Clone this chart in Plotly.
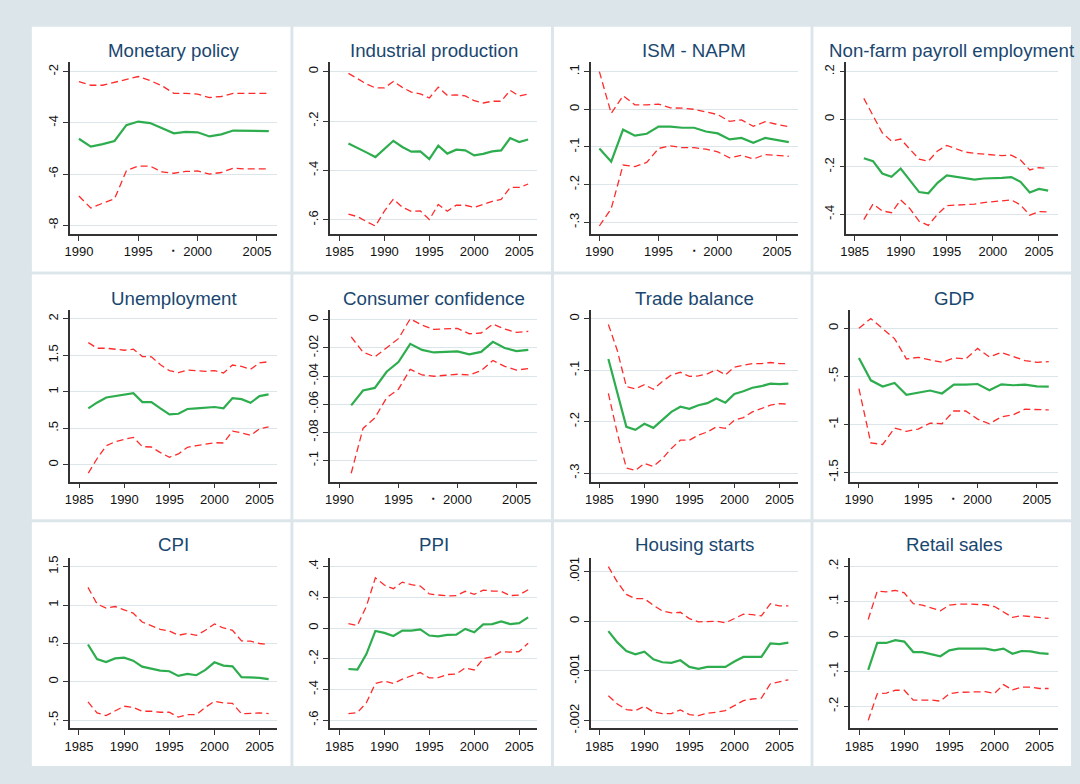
import plotly.graph_objects as go

# ---------------- data ----------------
YEARS_86 = [1986, 1987, 1988, 1989, 1990, 1991, 1992, 1993, 1994, 1995, 1996,
            1997, 1998, 1999, 2000, 2001, 2002, 2003, 2004, 2005, 2006]
YEARS_90 = [1990, 1991, 1992, 1993, 1994, 1995, 1996, 1997, 1998, 1999, 2000,
            2001, 2002, 2003, 2004, 2005, 2006]
YEARS_91 = [1991, 1992, 1993, 1994, 1995, 1996, 1997, 1998, 1999, 2000,
            2001, 2002, 2003, 2004, 2005, 2006]

TITLES = ["Monetary policy", "Industrial production", "ISM - NAPM",
          "Non-farm payroll employment", "Unemployment", "Consumer confidence",
          "Trade balance", "GDP", "CPI", "PPI", "Housing starts", "Retail sales"]

monetary_est = [-4.62, -4.93, -4.83, -4.71, -4.09, -3.95, -4.01, -4.22, -4.41, -4.35, -4.37,
                -4.53, -4.45, -4.30, -4.31, -4.32, -4.32]
monetary_hi = [-2.39, -2.53, -2.53, -2.41, -2.28, -2.19, -2.35, -2.55, -2.85, -2.85, -2.88,
               -3.01, -2.97, -2.85, -2.85, -2.85, -2.85]
monetary_lo = [-6.86, -7.33, -7.14, -6.97, -5.87, -5.69, -5.69, -5.92, -5.97, -5.90, -5.88,
               -6.00, -5.94, -5.77, -5.80, -5.80, -5.80]

indprod_est = [-0.291, -0.308, -0.327, -0.346, -0.312, -0.280, -0.305, -0.324, -0.323, -0.354,
               -0.300, -0.332, -0.316, -0.319, -0.339, -0.333, -0.323, -0.319, -0.269, -0.285, -0.275]
indprod_hi = [-0.007, -0.028, -0.050, -0.066, -0.066, -0.040, -0.064, -0.083, -0.090, -0.107,
              -0.063, -0.096, -0.094, -0.098, -0.118, -0.127, -0.120, -0.120, -0.076, -0.099, -0.091]
indprod_lo = [-0.577, -0.587, -0.607, -0.625, -0.565, -0.516, -0.549, -0.566, -0.564, -0.599,
              -0.538, -0.565, -0.541, -0.541, -0.550, -0.537, -0.525, -0.517, -0.469, -0.469, -0.455]

ism_est = [-0.104, -0.139, -0.054, -0.070, -0.065, -0.046, -0.046, -0.049, -0.049, -0.059,
           -0.064, -0.080, -0.076, -0.089, -0.076, -0.082, -0.087]
ism_hi = [0.100, -0.011, 0.036, 0.012, 0.012, 0.014, 0.004, 0.003, 0.000, -0.008,
          -0.014, -0.032, -0.028, -0.045, -0.033, -0.040, -0.046]
ism_lo = [-0.310, -0.264, -0.148, -0.152, -0.141, -0.104, -0.097, -0.102, -0.102, -0.106,
          -0.113, -0.129, -0.122, -0.132, -0.120, -0.122, -0.125]

nfp_est = [-0.164, -0.176, -0.228, -0.242, -0.207, -0.257, -0.306, -0.311, -0.267, -0.236,
           -0.242, -0.250, -0.254, -0.249, -0.249, -0.246, -0.243, -0.263, -0.308, -0.293, -0.300]
nfp_hi = [0.088, 0.013, -0.057, -0.092, -0.083, -0.126, -0.168, -0.176, -0.133, -0.110,
          -0.124, -0.138, -0.143, -0.147, -0.151, -0.153, -0.151, -0.171, -0.213, -0.203, -0.207]
nfp_lo = [-0.422, -0.356, -0.385, -0.393, -0.339, -0.376, -0.429, -0.446, -0.399, -0.363,
          -0.361, -0.360, -0.357, -0.350, -0.346, -0.342, -0.339, -0.360, -0.403, -0.388, -0.390]

unemp_est = [0.774, 0.855, 0.923, 0.941, 0.959, 0.982, 0.860, 0.860, 0.774, 0.692, 0.700,
             0.765, 0.774, 0.783, 0.792, 0.774, 0.914, 0.900, 0.850, 0.941, 0.964]
unemp_hi = [1.674, 1.597, 1.597, 1.584, 1.570, 1.584, 1.484, 1.480, 1.371, 1.290, 1.262,
            1.299, 1.290, 1.281, 1.290, 1.258, 1.367, 1.348, 1.308, 1.398, 1.412]
unemp_lo = [-0.113, 0.090, 0.262, 0.317, 0.348, 0.376, 0.249, 0.244, 0.167, 0.104, 0.149,
            0.240, 0.262, 0.280, 0.303, 0.299, 0.462, 0.439, 0.403, 0.493, 0.520]

conf_est = [-0.0608, -0.0502, -0.0484, -0.0369, -0.0300, -0.0171, -0.0214, -0.0232,
            -0.0228, -0.0225, -0.0246, -0.0228, -0.0157, -0.0200, -0.0223, -0.0214]
conf_hi = [-0.0122, -0.0230, -0.0263, -0.0200, -0.0134, 0.0007, -0.0038, -0.0068,
           -0.0063, -0.0061, -0.0099, -0.0094, -0.0031, -0.0066, -0.0089, -0.0082]
conf_lo = [-0.1090, -0.0772, -0.0697, -0.0554, -0.0493, -0.0352, -0.0392, -0.0401,
           -0.0394, -0.0387, -0.0392, -0.0362, -0.0289, -0.0331, -0.0357, -0.0347]

trade_est = [-0.078, -0.143, -0.210, -0.216, -0.204, -0.212, -0.197, -0.181, -0.171, -0.175,
             -0.168, -0.164, -0.155, -0.163, -0.146, -0.141, -0.134, -0.131, -0.126, -0.127, -0.126]
trade_hi = [-0.011, -0.062, -0.132, -0.136, -0.128, -0.137, -0.122, -0.109, -0.104, -0.112,
            -0.111, -0.107, -0.099, -0.109, -0.094, -0.091, -0.087, -0.087, -0.085, -0.087, -0.087]
trade_lo = [-0.145, -0.223, -0.290, -0.295, -0.281, -0.287, -0.272, -0.252, -0.236, -0.236,
            -0.226, -0.220, -0.210, -0.213, -0.197, -0.192, -0.181, -0.174, -0.168, -0.165, -0.166]

gdp_est = [-0.308, -0.541, -0.606, -0.568, -0.692, -0.668, -0.647, -0.678, -0.586, -0.586,
           -0.579, -0.644, -0.582, -0.592, -0.586, -0.603, -0.606]
gdp_hi = [0.000, 0.103, -0.003, -0.106, -0.318, -0.301, -0.329, -0.353, -0.308, -0.318,
          -0.209, -0.298, -0.250, -0.295, -0.336, -0.353, -0.346]
gdp_lo = [-0.627, -1.192, -1.209, -1.038, -1.072, -1.048, -0.986, -0.993, -0.860, -0.860,
          -0.945, -0.993, -0.921, -0.900, -0.842, -0.842, -0.849]

cpi_est = [0.486, 0.297, 0.258, 0.305, 0.314, 0.275, 0.198, 0.176, 0.146, 0.138, 0.077,
           0.103, 0.086, 0.155, 0.254, 0.211, 0.202, 0.060, 0.060, 0.052, 0.034]
cpi_hi = [1.230, 1.015, 0.959, 0.980, 0.937, 0.894, 0.778, 0.727, 0.684, 0.662, 0.606,
          0.628, 0.606, 0.671, 0.753, 0.701, 0.671, 0.533, 0.529, 0.499, 0.486]
cpi_lo = [-0.262, -0.404, -0.439, -0.383, -0.318, -0.331, -0.383, -0.383, -0.396, -0.396,
          -0.460, -0.426, -0.426, -0.331, -0.254, -0.275, -0.280, -0.417, -0.409, -0.404, -0.413]

ppi_est = [-0.267, -0.271, -0.170, -0.019, -0.032, -0.052, -0.017, -0.017, -0.009, -0.049,
           -0.054, -0.045, -0.043, -0.006, -0.028, 0.024, 0.026, 0.043, 0.026, 0.032, 0.069]
ppi_hi = [0.028, 0.017, 0.142, 0.327, 0.280, 0.256, 0.299, 0.282, 0.273, 0.222, 0.215,
          0.209, 0.211, 0.239, 0.219, 0.247, 0.241, 0.239, 0.211, 0.215, 0.249]
ppi_lo = [-0.557, -0.551, -0.486, -0.361, -0.346, -0.361, -0.333, -0.310, -0.290, -0.325,
          -0.323, -0.303, -0.299, -0.260, -0.273, -0.200, -0.187, -0.153, -0.157, -0.153, -0.099]

housing_est = [-0.000200, -0.000427, -0.000600, -0.000667, -0.000613, -0.000767, -0.000827,
               -0.000840, -0.000787, -0.000920, -0.000960, -0.000920, -0.000920, -0.000920,
               -0.000813, -0.000720, -0.000720, -0.000720, -0.000447, -0.000460, -0.000433]
housing_hi = [0.001100, 0.000787, 0.000540, 0.000453, 0.000453, 0.000320, 0.000207,
              0.000167, 0.000180, 0.000053, -0.000013, 0.000000, 0.000000, -0.000033,
              0.000053, 0.000140, 0.000133, 0.000107, 0.000353, 0.000307, 0.000307]
housing_lo = [-0.001500, -0.001667, -0.001780, -0.001800, -0.001713, -0.001827, -0.001860,
              -0.001860, -0.001787, -0.001880, -0.001900, -0.001853, -0.001833, -0.001800,
              -0.001700, -0.001600, -0.001567, -0.001547, -0.001260, -0.001213, -0.001180]

retail_est = [-0.096, -0.019, -0.019, -0.011, -0.015, -0.045, -0.045, -0.050, -0.057, -0.040,
              -0.035, -0.035, -0.035, -0.035, -0.040, -0.035, -0.050, -0.042, -0.043, -0.048, -0.050]
retail_hi = [0.048, 0.129, 0.127, 0.131, 0.124, 0.093, 0.089, 0.082, 0.073, 0.089, 0.092,
             0.092, 0.090, 0.090, 0.085, 0.070, 0.054, 0.059, 0.057, 0.055, 0.051]
retail_lo = [-0.240, -0.164, -0.162, -0.154, -0.154, -0.182, -0.182, -0.182, -0.185, -0.164,
             -0.160, -0.160, -0.160, -0.158, -0.163, -0.138, -0.153, -0.145, -0.145, -0.149, -0.149]

X_TICKS_85 = [1985, 1990, 1995, 2000, 2005]
X_TICKS_90 = [1990, 1995, 2000, 2005]

Y_TICKS = [
    [-8, -6, -4, -2],
    [-0.6, -0.4, -0.2, 0],
    [-0.3, -0.2, -0.1, 0, 0.1],
    [-0.4, -0.2, 0, 0.2],
    [0, 0.5, 1, 1.5, 2],
    [-0.1, -0.08, -0.06, -0.04, -0.02, 0],
    [-0.3, -0.2, -0.1, 0],
    [-1.5, -1, -0.5, 0],
    [-0.5, 0, 0.5, 1, 1.5],
    [-0.6, -0.4, -0.2, 0, 0.2, 0.4],
    [-0.002, -0.001, 0, 0.001],
    [-0.2, -0.1, 0, 0.1, 0.2],
]

SERIES = [
    (YEARS_90, monetary_est, monetary_hi, monetary_lo),
    (YEARS_86, indprod_est, indprod_hi, indprod_lo),
    (YEARS_90, ism_est, ism_hi, ism_lo),
    (YEARS_86, nfp_est, nfp_hi, nfp_lo),
    (YEARS_86, unemp_est, unemp_hi, unemp_lo),
    (YEARS_91, conf_est, conf_hi, conf_lo),
    (YEARS_86, trade_est, trade_hi, trade_lo),
    (YEARS_90, gdp_est, gdp_hi, gdp_lo),
    (YEARS_86, cpi_est, cpi_hi, cpi_lo),
    (YEARS_86, ppi_est, ppi_hi, ppi_lo),
    (YEARS_86, housing_est, housing_hi, housing_lo),
    (YEARS_86, retail_est, retail_hi, retail_lo),
]
X_TICKS = [X_TICKS_90, X_TICKS_85, X_TICKS_90, X_TICKS_85,
           X_TICKS_85, X_TICKS_90, X_TICKS_85, X_TICKS_90,
           X_TICKS_85, X_TICKS_85, X_TICKS_85, X_TICKS_85]

# ---------------- layout geometry (pixels) ----------------
W, H = 1080, 784
PLOT_LR = [(64, 273), (326, 534), (588, 796), (845, 1058),
           (64, 273), (326, 534), (588, 796), (849, 1058),
           (64, 273), (326, 534), (588, 796), (849, 1058)]
ROW_TB = [(61, 234), (311, 484), (561, 733)]
TITLE_Y = [49, 299, 547]
X_RANGES = [(1989.22, 2006.73), (1983.97, 2006.99), (1989.27, 2006.74), (1984.10, 2007.08),
            (1983.93, 2006.99), (1989.22, 2006.74), (1984.04, 2007.02), (1989.27, 2006.79),
            (1983.97, 2006.98), (1983.97, 2006.99), (1984.04, 2007.02), (1984.01, 2007.06)]
Y_RANGES = [(-8.34, -1.64), (-0.657, 0.037), (-0.331, 0.1245), (-0.482, 0.239),
            (-0.231, 2.118), (-0.115, 0.0068), (-0.3167, 0.0167), (-1.596, 0.189),
            (-0.607, 1.612), (-0.654, 0.456), (-0.00216, 0.001273), (-0.263, 0.2235)]
PANEL_X = [(26, 286), (289, 548), (551, 809), (812, 1071)]
PANEL_Y = [(25, 272), (275, 522), (525, 771)]
DOT_PANELS = [0, 2, 5, 7]

BG = "#DCE6EA"
GRID = "#DCE6EA"
AXIS = "#333333"
GREEN = "#2EAD4F"
RED = "#FF2B2B"
TITLE_C = "#1A476F"
FONT = "Liberation Sans, Arial, sans-serif"


def fmt(v):
    s = f"{v:g}"
    if s.startswith("0."):
        s = s[1:]
    elif s.startswith("-0."):
        s = "-" + s[2:]
    return s


fig = go.Figure()
layout = {}
annotations = []
shapes = []

for r in range(3):
    for c in range(4):
        shapes.append(dict(type="rect", xref="paper", yref="paper", layer="below",
                           x0=PANEL_X[c][0] / W, x1=PANEL_X[c][1] / W,
                           y0=1 - PANEL_Y[r][1] / H, y1=1 - PANEL_Y[r][0] / H,
                           fillcolor="white", line=dict(width=0)))

for i in range(12):
    row = i // 4
    n = i + 1
    sfx = "" if n == 1 else str(n)
    xa, ya = "x" + sfx, "y" + sfx
    years, est, hi, lo = SERIES[i]
    for ser, col, wdt, dash in ((hi, RED, 1.3, "7px,4px"), (lo, RED, 1.3, "7px,4px"),
                                (est, GREEN, 2.2, "solid")):
        fig.add_trace(go.Scatter(x=years, y=ser, mode="lines", xaxis=xa, yaxis=ya,
                                 line=dict(color=col, width=wdt, dash=dash),
                                 showlegend=False, hoverinfo="skip"))
    l, rr = PLOT_LR[i]
    t, b = ROW_TB[row]
    layout["xaxis" + sfx] = dict(
        domain=[l / W, rr / W], range=list(X_RANGES[i]), anchor=ya,
        tickvals=X_TICKS[i], ticktext=[str(v) for v in X_TICKS[i]],
        showgrid=False, zeroline=False, showline=True, linecolor=AXIS, linewidth=1.5,
        ticks="outside", ticklen=5, tickwidth=1.2, tickcolor=AXIS,
        tickfont=dict(family=FONT, size=13, color="#111111"), fixedrange=True)
    layout["yaxis" + sfx] = dict(
        domain=[1 - b / H, 1 - t / H], range=list(Y_RANGES[i]), anchor=xa,
        tickvals=Y_TICKS[i], ticktext=[fmt(v) for v in Y_TICKS[i]], tickangle=-90,
        showgrid=True, gridcolor=GRID, gridwidth=1.2, zeroline=False,
        showline=True, linecolor=AXIS, linewidth=1.5,
        ticks="outside", ticklen=5, tickwidth=1.2, tickcolor=AXIS,
        tickfont=dict(family=FONT, size=13, color="#111111"), fixedrange=True)
    annotations.append(dict(text=TITLES[i], xref="paper", yref="paper",
                            x=(l + rr) / 2 / W, y=1 - TITLE_Y[row] / H,
                            xanchor="center", yanchor="middle", showarrow=False,
                            font=dict(family=FONT, size=18.7, color=TITLE_C)))
    if i in DOT_PANELS:
        annotations.append(dict(text="\u25aa", xref=xa, yref="paper", x=1998.0,
                                y=1 - (b + 17) / H, xanchor="center", yanchor="middle",
                                showarrow=False,
                                font=dict(family=FONT, size=8, color="#111111")))

fig.update_layout(**layout)
fig.update_layout(width=W, height=H, margin=dict(l=0, r=0, t=0, b=0),
                  paper_bgcolor=BG, plot_bgcolor="white",
                  annotations=annotations, shapes=shapes)

fig.write_html(
    "out.html",
    config={"displayModeBar": False},
    post_script=("document.documentElement.style.margin='0';"
                 "document.documentElement.style.overflow='hidden';"
                 "document.body.style.margin='0';"
                 "document.body.style.padding='0';"
                 "document.body.style.overflow='hidden';"),
)
